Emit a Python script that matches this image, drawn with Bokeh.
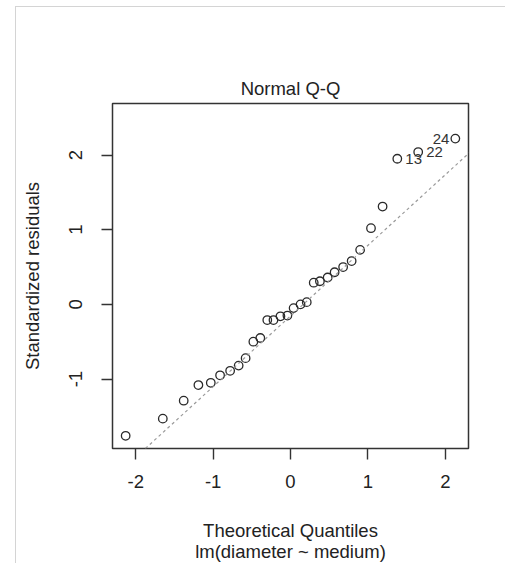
from bokeh.plotting import figure
from bokeh.models import Slope, FixedTicker, Range1d, ColumnDataSource
from bokeh.embed import file_html
from bokeh.resources import INLINE
from bokeh.core.properties import value

# ---- data ----
theoretical_q = [-2.13, -1.65, -1.38, -1.19, -1.03, -0.91, -0.78, -0.67, -0.58, -0.48,
                 -0.39, -0.30, -0.22, -0.13, -0.04, 0.04, 0.13, 0.21, 0.30, 0.38,
                 0.48, 0.57, 0.68, 0.79, 0.90, 1.04, 1.19, 1.38, 1.65, 2.13]
std_resid = [-1.76, -1.53, -1.29, -1.08, -1.05, -0.95, -0.89, -0.82, -0.72, -0.50,
             -0.45, -0.21, -0.21, -0.16, -0.15, -0.05, 0.00, 0.03, 0.29, 0.31,
             0.36, 0.43, 0.50, 0.58, 0.73, 1.02, 1.31, 1.95, 2.04, 2.22]
outlier_ids = ["13", "22", "24"]
outlier_index = [27, 28, 29]
outlier_side = ["right", "right", "left"]
qq_slope = 0.946
qq_intercept = -0.156
x_ticks = [-2, -1, 0, 1, 2]
x_tick_labels = ["-2", "-1", "0", "1", "2"]
y_ticks = [-1, 0, 1, 2]
y_tick_labels = ["-1", "0", "1", "2"]
title_text = "Normal Q-Q"
x_label = "Theoretical Quantiles"
y_label = "Standardized residuals"
sub_caption = "lm(diameter ~ medium)"

FONT = "Liberation Sans"
TXT = "#222222"
FS = "18.5px"

p = figure(width=490, height=557,
           x_range=Range1d(-2.30, 2.30), y_range=Range1d(-1.93, 2.69),
           output_backend="svg", toolbar_location=None,
           min_border_left=96, min_border_right=38,
           min_border_top=96, min_border_bottom=114,
           title=title_text)
p.margin = (6, 0, 0, 15)
p.styles = {"border-left": "1px solid #d4d4d4", "border-top": "1px solid #d4d4d4"}
p.background_fill_color = "white"
p.border_fill_color = "white"
p.outline_line_color = "#333333"
p.outline_line_width = 1.5
p.xgrid.visible = False
p.ygrid.visible = False

p.title.text_font = FONT
p.title.text_font_size = FS
p.title.text_font_style = "normal"
p.title.text_color = TXT
p.title.align = "center"
p.title.standoff = 9

for ax in (p.xaxis[0], p.yaxis[0]):
    ax.axis_line_color = None
    ax.major_tick_out = 11
    ax.major_tick_in = 0
    ax.minor_tick_out = 0
    ax.minor_tick_in = 0
    ax.major_tick_line_color = "#333333"
    ax.major_tick_line_width = 1.4
    ax.major_label_text_font = FONT
    ax.major_label_text_font_size = FS
    ax.major_label_text_color = TXT
    ax.axis_label_text_font = FONT
    ax.axis_label_text_font_size = FS
    ax.axis_label_text_font_style = "normal"
    ax.axis_label_text_color = TXT

p.xaxis.ticker = FixedTicker(ticks=x_ticks)
p.xaxis.major_label_overrides = dict(zip(x_ticks, x_tick_labels))
p.xaxis.axis_label = x_label + "\n" + sub_caption
p.xaxis.axis_label_text_line_height = 1.0
p.xaxis.major_label_standoff = 15
p.xaxis.axis_label_standoff = 29

p.yaxis.ticker = FixedTicker(ticks=y_ticks)
p.yaxis.major_label_overrides = dict(zip(y_ticks, y_tick_labels))
p.yaxis.axis_label = y_label
p.yaxis.major_label_orientation = "parallel"
p.yaxis.major_label_standoff = 19
p.yaxis.axis_label_standoff = 24

p.scatter(theoretical_q, std_resid, marker="circle", size=8.5,
          fill_color=None, line_color="#2a2a2a", line_width=1.3)

p.add_layout(Slope(gradient=qq_slope, y_intercept=qq_intercept,
                   line_color="#9a9a9a", line_dash="3 3", line_width=1.2))

src = ColumnDataSource(dict(
    x=[theoretical_q[i] for i in outlier_index],
    y=[std_resid[i] for i in outlier_index],
    text=outlier_ids,
    align=["left" if s == "right" else "right" for s in outlier_side],
    xoff=[8 if s == "right" else -6 for s in outlier_side],
))
p.text(x="x", y="y", text="text", source=src, text_align="align", x_offset="xoff",
       text_baseline="middle", text_font=value(FONT), text_font_size="15px",
       text_color="#333333")

open("out.html", "w").write(file_html(p, INLINE))
